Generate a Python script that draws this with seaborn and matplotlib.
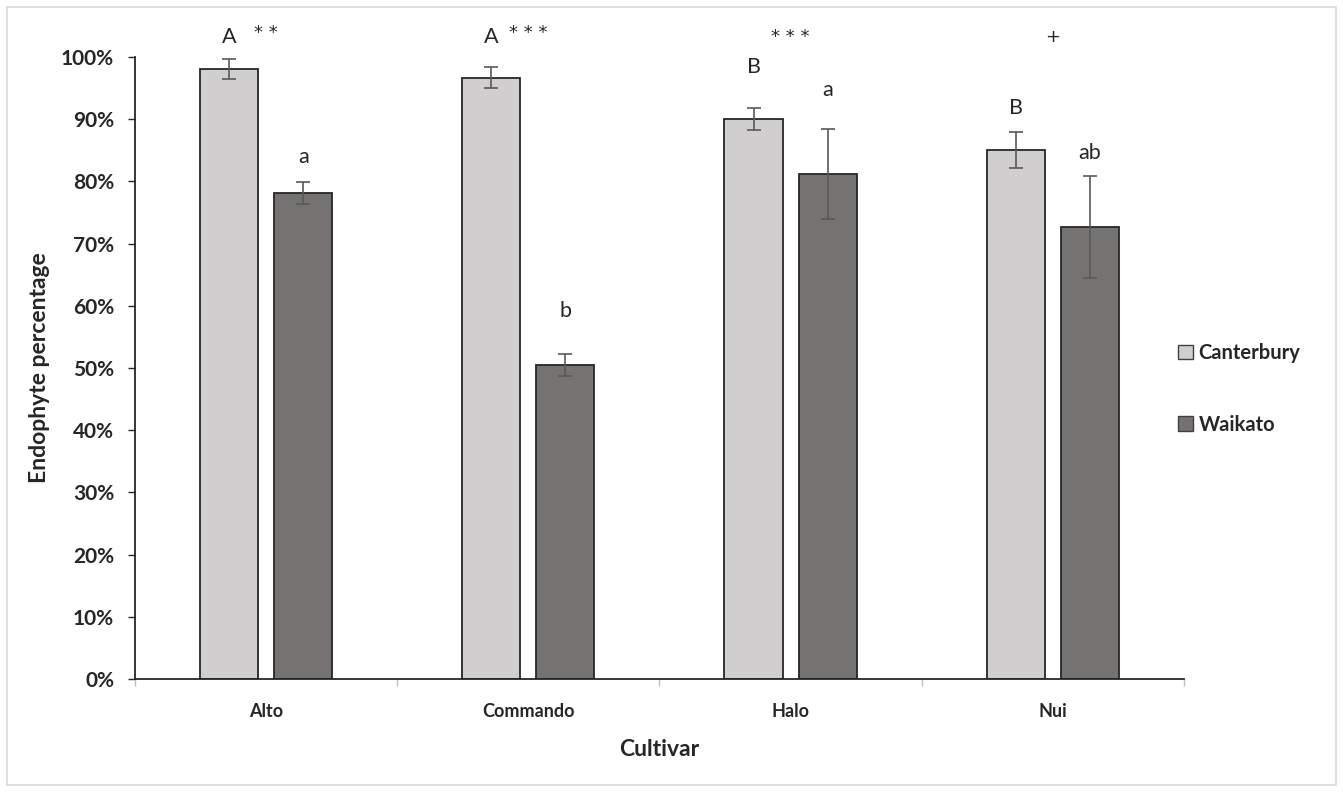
import matplotlib
matplotlib.use("Agg")
import matplotlib.pyplot as plt
import matplotlib.patches as mpatches
from matplotlib.ticker import FixedLocator, PercentFormatter
import pandas as pd
import seaborn as sns

# data
cultivars = ["Alto", "Commando", "Halo", "Nui"]
regions = ["Canterbury", "Waikato"]
canterbury = [98.1, 96.7, 90.0, 85.1]
waikato = [78.1, 50.5, 81.2, 72.7]
canterbury_err = [1.6, 1.7, 1.8, 2.9]
waikato_err = [1.8, 1.8, 7.2, 8.2]

# letters of significance above bars, with their heights (%)
canterbury_letters = ["A", "A", "B", "B"]
canterbury_letter_y = [103.2, 103.2, 98.4, 91.8]
waikato_letters = ["a", "b", "a", "ab"]
waikato_letter_y = [83.9, 59.2, 94.7, 84.6]
# region comparison stars per cultivar
stars = ["**", "***", "***", "+"]
stars_y = [103.9, 103.9, 103.2, 103.2]

colors = {"Canterbury": "#D0CECE", "Waikato": "#767171"}

df = pd.DataFrame({
    "Cultivar": cultivars * 2,
    "Region": ["Canterbury"] * 4 + ["Waikato"] * 4,
    "value": canterbury + waikato,
})

sns.set_style("white")
plt.rcParams["font.family"] = ["Lato", "DejaVu Sans"]

fig = plt.figure(figsize=(13.43, 7.92), dpi=100)
ax = fig.add_axes([0.1005, 0.1427, 0.7811, 0.7853])

sns.barplot(
    data=df, x="Cultivar", y="value", hue="Region", order=cultivars,
    hue_order=regions, palette=colors, width=0.565, gap=0.215,
    edgecolor="#262626", linewidth=1.3, errorbar=None, legend=False, ax=ax,
)

errs = [canterbury_err, waikato_err]
letters = [canterbury_letters, waikato_letters]
letter_y = [canterbury_letter_y, waikato_letter_y]
for cont, err, labs, ly in zip(ax.containers, errs, letters, letter_y):
    xs = [p.get_x() + p.get_width() / 2 for p in cont.patches]
    ys = [p.get_height() for p in cont.patches]
    ax.errorbar(xs, ys, yerr=err, fmt="none", ecolor="#595959",
                elinewidth=1.2, capsize=5, capthick=1.2, zorder=5)
    for x, lab, y in zip(xs, labs, ly):
        ax.text(x, y, lab, ha="center", va="center", fontsize=15.5,
                color="#262626", clip_on=False)

# stars are drawn a little spaced out, like in the original
for i, (s, y) in enumerate(zip(stars, stars_y)):
    ax.text(i, y, " ".join(s), ha="center", va="center", fontsize=13,
            family="DejaVu Sans", color="#262626", clip_on=False)

ax.set_ylim(0, 100)
ax.set_xlim(-0.5, 3.5)
ax.yaxis.set_major_locator(FixedLocator(range(0, 101, 10)))
ax.yaxis.set_major_formatter(PercentFormatter(decimals=0))
ax.tick_params(axis="y", which="major", direction="out", length=5,
               width=1, color="#262626", left=True, labelsize=15, pad=10)
ax.xaxis.set_minor_locator(FixedLocator([-0.5, 0.5, 1.5, 2.5, 3.5]))
ax.tick_params(axis="x", which="major", length=0, pad=17, labelsize=13)
ax.tick_params(axis="x", which="minor", direction="out", length=5,
               width=1, color="#bfbfbf", bottom=True)
for lab in ax.get_xticklabels() + ax.get_yticklabels():
    lab.set_fontweight("bold")
    lab.set_color("#262626")

for side in ["top", "right"]:
    ax.spines[side].set_visible(False)
for side in ["left", "bottom"]:
    ax.spines[side].set_color("#262626")
    ax.spines[side].set_linewidth(1.3)

ax.set_xlabel("Cultivar", fontsize=16.5, fontweight="bold", color="#262626",
              labelpad=14)
ax.set_ylabel("Endophyte percentage", fontsize=16.5, fontweight="bold",
              color="#262626", labelpad=8)

handles = [mpatches.Patch(facecolor=colors[r], edgecolor="#404040",
                          linewidth=1, label=r) for r in regions]
fig.legend(handles=handles, loc="center left", bbox_to_anchor=(0.864, 0.509),
           frameon=False, handlelength=0.7, handleheight=0.7,
           handletextpad=0.3, labelspacing=2.55,
           prop={"weight": "bold", "size": 14.5})

# light frame around the whole chart area
fig.patches.append(mpatches.Rectangle(
    (0.005, 0.009), 0.99, 0.982, transform=fig.transFigure, fill=False,
    edgecolor="#d9d9d9", linewidth=1.2))

fig.savefig("out.png", dpi=100)
